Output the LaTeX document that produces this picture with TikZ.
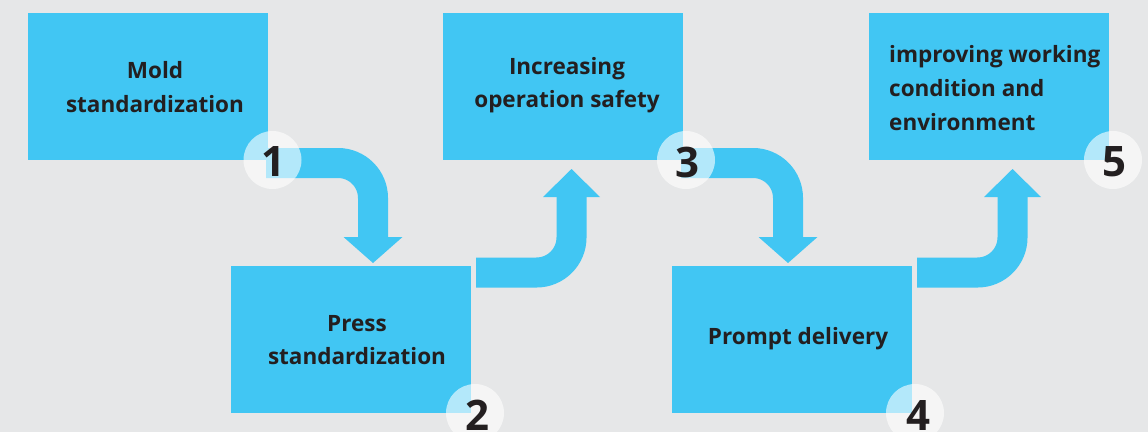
\documentclass[tikz,border=0pt]{standalone}
\usepackage{fontspec}
\setmainfont{Open Sans}
\usetikzlibrary{calc}
\definecolor{bg}{HTML}{E6E7E8}
\definecolor{boxblue}{HTML}{41C6F3}
\definecolor{txt}{HTML}{231F20}
\begin{document}
\begin{tikzpicture}[x=1pt,y=-1pt,
  stepbox/.style={fill=boxblue, draw=none, minimum width=240pt, minimum height=147pt, inner sep=0pt, anchor=north west},
  lbl/.style={text=txt, font=\bfseries\fontsize{22.5}{33.5}\selectfont, align=center, inner sep=0pt},
  lblleft/.style={text=txt, font=\bfseries\fontsize{22.5}{34}\selectfont, align=left, inner sep=0pt, anchor=west},
  flow/.style={draw=boxblue, line width=30pt, rounded corners=35pt},
  head/.style={fill=boxblue, draw=none},
  numc/.style={circle, fill=white, fill opacity=0.6, draw=none, minimum size=58pt, inner sep=0pt},
  num/.style={text=txt, font=\bfseries\fontsize{42}{42}\selectfont, inner sep=0pt}]
\useasboundingbox[fill=bg] (0,0) rectangle (1148,432);

% boxes
\node[stepbox] (b1) at (28,13) {};
\node[stepbox] (b2) at (231,266) {};
\node[stepbox] (b3) at (443,13) {};
\node[stepbox] (b4) at (672,266) {};
\node[stepbox] (b5) at (869,13) {};

% labels
\node[lbl] (t1) at (155,87) {Mold\\standardization};
\node[lbl] (t2) at (357,340) {Press\\standardization};
\node[lbl] (t3) at (567,85) {Increasing\\operation safety};
\node[lbl] (t4) at (798,339) {Prompt delivery};
\node[lblleft] (t5) at (889,88) {improving working\\condition and\\environment};

% arrow coordinates
\coordinate (a1s) at (266,163);
\coordinate (a1c) at (373,163);
\coordinate (a1e) at (373,238);
\coordinate (a2s) at (476,272.5);
\coordinate (a2c) at (571.5,272.5);
\coordinate (a2e) at (571.5,196);
\coordinate (a3s) at (681,163);
\coordinate (a3c) at (788,163);
\coordinate (a3e) at (788,238);
\coordinate (a4s) at (917,272.5);
\coordinate (a4c) at (1012.5,272.5);
\coordinate (a4e) at (1012.5,196);

\draw[flow] (a1s) -- (a1c) -- (a1e);
\fill[head] ($(a1e)+(-29.5,-1)$) -- ($(a1e)+(29.5,-1)$) -- ($(a1e)+(0,25)$) -- cycle;
\draw[flow] (a2s) -- (a2c) -- (a2e);
\fill[head] ($(a2e)+(-28.5,1)$) -- ($(a2e)+(28.5,1)$) -- ($(a2e)+(0,-27)$) -- cycle;
\draw[flow] (a3s) -- (a3c) -- (a3e);
\fill[head] ($(a3e)+(-29.5,-1)$) -- ($(a3e)+(29.5,-1)$) -- ($(a3e)+(0,25)$) -- cycle;
\draw[flow] (a4s) -- (a4c) -- (a4e);
\fill[head] ($(a4e)+(-28.5,1)$) -- ($(a4e)+(28.5,1)$) -- ($(a4e)+(0,-27)$) -- cycle;

% number circles
\node[numc] (c1) at (272.5,160) {};
\node[numc] (c2) at (475,413) {};
\node[numc] (c3) at (686,160) {};
\node[numc] (c4) at (915,413) {};
\node[numc] (c5) at (1113,160) {};
\node[num] (n1) at (273,162) {1};
\node[num] (n2) at (477,415) {2};
\node[num] (n3) at (687,162) {3};
\node[num] (n4) at (918,415) {4};
\node[num] (n5) at (1114,162) {5};
\end{tikzpicture}
\end{document}
